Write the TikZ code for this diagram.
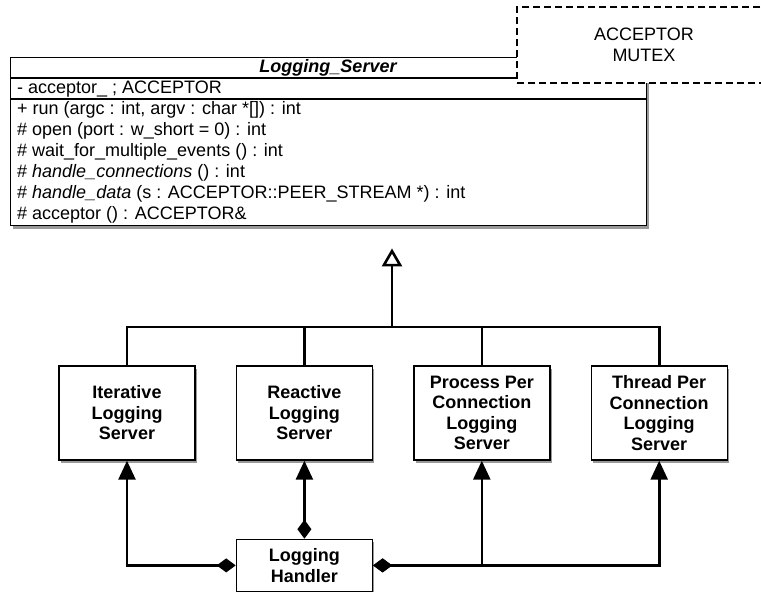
\documentclass[tikz,border=0pt]{standalone}
\usepackage{fontspec}
\setmainfont{Liberation Sans}
\usetikzlibrary{positioning, arrows.meta, shadows}

\tikzset{
  % class box with compartments
  classbox/.style={
    draw, line width=1.4pt, fill=white, inner sep=0pt, anchor=north west,
    drop shadow={shadow xshift=2pt, shadow yshift=-3pt, fill=black!80}
  },
  clsname/.style={inner sep=0pt, font=\fontsize{18pt}{21pt}\selectfont\bfseries\itshape},
  member/.style={anchor=west, inner sep=0pt, align=left,
    font=\fontsize{18pt}{21pt}\selectfont},
  % subclass boxes
  srvbox/.style={
    draw, line width=1.4pt, fill=white, inner sep=2pt,
    minimum width=136pt, minimum height=94pt,
    font=\fontsize{18pt}{20.5pt}\selectfont\bfseries, align=center,
    drop shadow={shadow xshift=2pt, shadow yshift=-3pt, fill=black!80}
  },
  % template parameter box
  parambox/.style={
    draw, dash pattern=on 7pt off 4pt, line width=1.2pt, fill=white,
    minimum width=254pt, minimum height=76pt, align=center,
    font=\fontsize{18pt}{21pt}\selectfont
  },
  genline/.style={line width=2.6pt},
  inherit/.style={genline, -{Triangle[open, fill=white, width=20pt, length=18pt]}},
  uses/.style={line width=2.6pt,
    {Diamond[width=14pt, length=19pt]}-{Triangle[width=17pt, length=19pt]}},
}

\begin{document}
\begin{tikzpicture}[x=1pt, y=1pt]
  \useasboundingbox (0,0) rectangle (761,-592);

  % Logging_Server
  \node[classbox, minimum width=636pt, minimum height=168pt] (srv) at (10,-57) {};
  \coordinate (namebot) at (10,-78);
  \coordinate (attrbot) at (10,-99);
  \draw[line width=1.2pt] (namebot) -- (namebot -| srv.east);
  \draw[line width=1.2pt] (attrbot) -- (attrbot -| srv.east);
  \node[clsname] (title) at (328,-68) {Logging\_Server};
  \node[member] (attr) at (17,-89) {- acceptor\_ ; ACCEPTOR};
  \node[member] (ops) at (17,-162) {+ run (argc : int, argv : char *[]) : int\\
    \# open (port : w\_short = 0) : int\\
    \# wait\_for\_multiple\_events () : int\\
    \# \textit{handle\_connections} () : int\\
    \# \textit{handle\_data} (s : ACCEPTOR::PEER\_STREAM *) : int\\
    \# acceptor () : ACCEPTOR\&};

  \node[parambox] (mutex) at (644,-45) {ACCEPTOR\\MUTEX};

  % concrete servers
  \node[srvbox] (iter) at (127,-413) {Iterative\\Logging\\Server};
  \node[srvbox, right=40pt of iter] (react) {Reactive\\Logging\\Server};
  \node[srvbox, right=40pt of react] (proc) {Process Per\\Connection\\Logging\\Server};
  \node[srvbox, right=40pt of proc] (thread) {Thread Per\\Connection\\Logging\\Server};
  \node[srvbox, minimum height=52pt, below=78pt of react] (handler) {Logging\\Handler};

  \coordinate (hub) at (392,-327);
  \draw[genline] (iter.north) |- (hub) (react.north) |- (hub)
    (proc.north) |- (hub) (thread.north) |- (hub);
  \draw[inherit, shorten >=22pt] (hub) -- (hub |- srv.south);

  \draw[uses] (handler.west) -| (iter.south);
  \draw[uses] (handler.north) -- (react.south);
  \draw[uses] (handler.east) -| (proc.south);
  \draw[uses] (handler.east) -| (thread.south);
\end{tikzpicture}
\end{document}
